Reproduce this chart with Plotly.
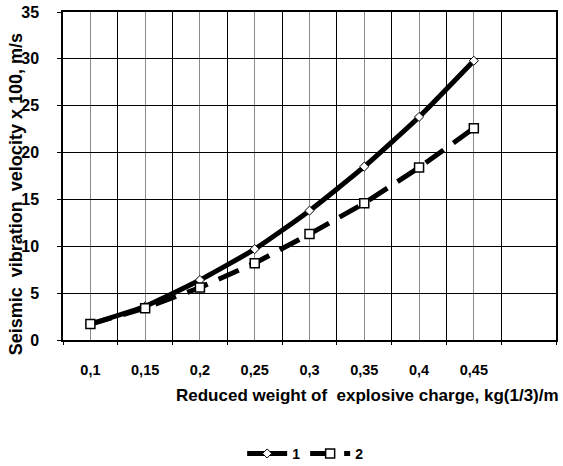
import plotly.graph_objects as go

categories = ["0,1", "0,15", "0,2", "0,25", "0,3", "0,35", "0,4", "0,45"]
n_slots = 9  # category slots on the axis (last one empty)
series1 = [1.7, 3.6, 6.4, 9.7, 13.8, 18.5, 23.8, 29.8]
series2 = [1.7, 3.4, 5.6, 8.2, 11.3, 14.6, 18.4, 22.6]
y_ticks = [0, 5, 10, 15, 20, 25, 30, 35]
x_title = "Reduced weight of  explosive charge, kg(1/3)/m"
y_title = "Seismic  vibration  velocity x 100, m/s"

FONT = "Liberation Sans, Arial, sans-serif"
xpos = list(range(len(categories)))

fig = go.Figure()
fig.add_trace(go.Scatter(
    x=xpos, y=series1, name="1", mode="lines+markers",
    line=dict(color="black", width=5, shape="spline", smoothing=0.5),
    marker=dict(symbol="diamond", size=7, color="white", line=dict(color="black", width=1)),
))
fig.add_trace(go.Scatter(
    x=xpos, y=series2, name="2", mode="lines+markers",
    line=dict(color="black", width=5, dash="22px,12px"),
    marker=dict(symbol="square", size=9, color="white", line=dict(color="black", width=1.5)),
))

boundaries = [i - 0.5 for i in range(n_slots + 1)]

fig.update_layout(
    width=563, height=466,
    margin=dict(l=63, r=7, t=12, b=126, autoexpand=False),
    paper_bgcolor="white", plot_bgcolor="white",
    font=dict(family=FONT, size=12, color="black", weight="bold"),
    showlegend=True,
    legend=dict(orientation="h", xref="container", yref="container",
                x=0.542, xanchor="center", y=0.026, yanchor="middle",
                font=dict(family=FONT, size=14, color="black", weight="bold"),
                itemwidth=40, tracegroupgap=0),
    xaxis=dict(
        range=[-0.5, n_slots - 0.5], automargin=False,
        tickmode="array", tickvals=xpos, ticktext=categories,
        showgrid=True, gridcolor="#8a8a8a", gridwidth=1,
        ticks="", showline=True, linecolor="black", linewidth=1.5, mirror=True,
        ticklabelstandoff=16, zeroline=False,
        tickfont=dict(family=FONT, size=14.5, color="black", weight="bold"),
    ),
    xaxis2=dict(
        overlaying="x", matches="x", range=[-0.5, n_slots - 0.5], automargin=False,
        tickmode="array", tickvals=boundaries, ticktext=[""] * len(boundaries),
        showgrid=True, gridcolor="black", gridwidth=1,
        ticks="outside", ticklen=4, tickcolor="black", showline=False, zeroline=False,
        side="bottom",
    ),
    yaxis=dict(
        range=[0, 35], tickmode="array", tickvals=y_ticks, automargin=False,
        showgrid=True, gridcolor="black", gridwidth=1,
        ticks="outside", ticklen=4, tickcolor="black",
        showline=True, linecolor="black", linewidth=1.5, mirror=True, zeroline=False,
        ticklabelstandoff=15,
        tickfont=dict(family=FONT, size=16, color="black", weight="bold"),
    ),
    annotations=[
        dict(text=x_title, xref="paper", yref="paper", x=1.01, y=-0.168,
             xanchor="right", yanchor="middle", showarrow=False,
             font=dict(family=FONT, size=17, color="black", weight="bold")),
        dict(text=y_title, xref="paper", yref="paper", x=-0.095, y=0.445,
             xanchor="center", yanchor="middle", textangle=-90, showarrow=False,
             font=dict(family=FONT, size=18, color="black", weight="bold")),
    ],
)
# dummy trace to activate xaxis2 grid
fig.add_trace(go.Scatter(x=[None], y=[None], xaxis="x2", showlegend=False, hoverinfo="skip"))

fig.write_html("out.html", config={"displayModeBar": False},
               post_script="document.body.style.margin='0';")
